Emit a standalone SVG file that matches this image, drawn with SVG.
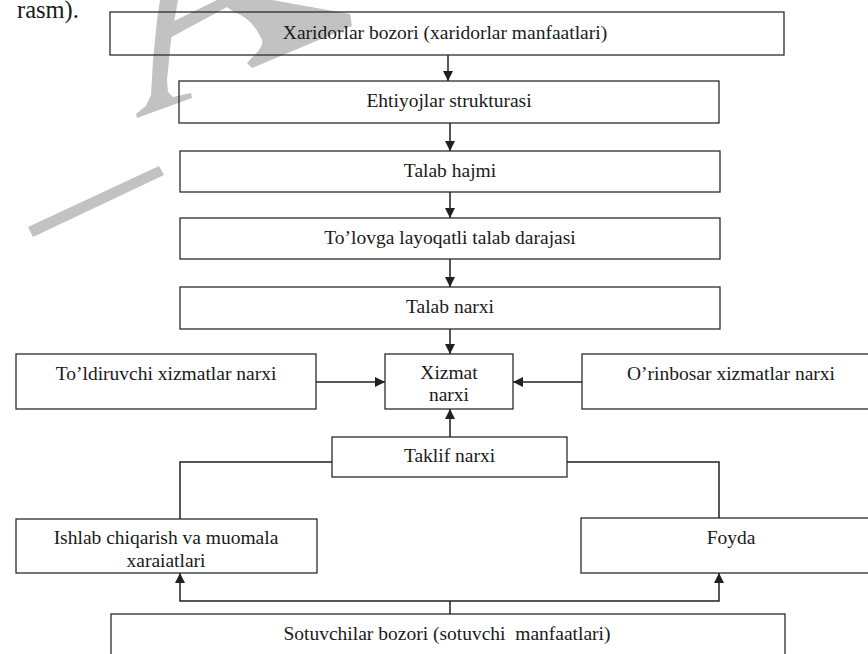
<svg xmlns="http://www.w3.org/2000/svg" width="868" height="654" viewBox="0 0 868 654">
  <style>
    .box { fill: none; stroke: #2b2b2b; stroke-width: 1.3; }
    .lbl { font-family: "Liberation Serif", "Times New Roman", serif; font-size: 19.5px; fill: #1a1a1a; text-anchor: middle; }
    .conn { fill: none; stroke: #231f20; stroke-width: 1.5; }
    .arr { marker-end: url(#head); }
    .wm { fill: #c2c2c2; }
  </style>
  <defs>
    <marker id="head" markerUnits="userSpaceOnUse" markerWidth="10" markerHeight="10" refX="10" refY="5" orient="auto">
      <path d="M0,0 L10,5 L0,10 Z" fill="#231f20"/>
    </marker>
  </defs>
  <rect width="868" height="654" fill="#ffffff"/>

  <!-- background watermark strokes -->
  <g id="watermark">
    <polygon class="wm" points="28,227 33,237 164,175 159,166"/>
    <polygon class="wm" points="160,0 178,0 171,40 167,80 168,92 173,97 191,93 192,98 137,118 136,114 146,106 151,95 153,60 157,20"/>
    <polygon class="wm" points="166,25 217,0 240,0 166,40"/>
    <path class="wm" d="M217,0 L272,0 L350,14 L352,26 L252,68 L247,63 C256,54 264,46 262,40 C256,26 246,16 234,12 Z"/>
  </g>

  <text x="17" y="18" style="font-family:'Liberation Serif','Times New Roman',serif;font-size:24.5px;fill:#1a1a1a">rasm).</text>

  <g id="connectors">
    <path class="conn arr" d="M448,55 V81"/>
    <path class="conn arr" d="M450,123 V151"/>
    <path class="conn arr" d="M450,192 V218"/>
    <path class="conn arr" d="M450,259 V287"/>
    <path class="conn arr" d="M450,329 V354"/>
    <path class="conn arr" d="M316,382 H385"/>
    <path class="conn arr" d="M582,382 H513"/>
    <path class="conn arr" d="M450,437 V409"/>
    <path class="conn" d="M332,462 H180 V519"/>
    <path class="conn" d="M567,462 H719 V518"/>
    <path class="conn" d="M450,614 V601"/>
    <path class="conn arr" d="M450,601 H180 V573"/>
    <path class="conn arr" d="M450,601 H719 V573"/>
  </g>

  <g id="buyers-market">
    <rect class="box" x="110" y="12" width="674" height="43"/>
    <text class="lbl" x="445" y="39">Xaridorlar bozori (xaridorlar manfaatlari)</text>
  </g>
  <g id="needs-structure">
    <rect class="box" x="179" y="81" width="540" height="42"/>
    <text class="lbl" x="449" y="107">Ehtiyojlar strukturasi</text>
  </g>
  <g id="demand-volume">
    <rect class="box" x="180" y="151" width="540" height="41"/>
    <text class="lbl" x="450" y="177">Talab hajmi</text>
  </g>
  <g id="solvent-demand">
    <rect class="box" x="180" y="218" width="540" height="41"/>
    <text class="lbl" x="450" y="244">To’lovga layoqatli talab darajasi</text>
  </g>
  <g id="demand-price">
    <rect class="box" x="180" y="287" width="540" height="42"/>
    <text class="lbl" x="450" y="313">Talab narxi</text>
  </g>
  <g id="complement-price">
    <rect class="box" x="16" y="354" width="300" height="55"/>
    <text class="lbl" x="166" y="380">To’ldiruvchi xizmatlar narxi</text>
  </g>
  <g id="service-price">
    <rect class="box" x="385" y="354" width="128" height="55"/>
    <text class="lbl" x="449" y="379">Xizmat</text>
    <text class="lbl" x="449" y="401">narxi</text>
  </g>
  <g id="substitute-price">
    <rect class="box" x="582" y="354" width="300" height="55"/>
    <text class="lbl" x="731" y="380">O’rinbosar xizmatlar narxi</text>
  </g>
  <g id="supply-price">
    <rect class="box" x="332" y="437" width="235" height="40"/>
    <text class="lbl" x="449.5" y="462">Taklif narxi</text>
  </g>
  <g id="costs">
    <rect class="box" x="16" y="519" width="301" height="54"/>
    <text class="lbl" x="166" y="544">Ishlab chiqarish va muomala</text>
    <text class="lbl" x="166" y="567">xaraiatlari</text>
  </g>
  <g id="profit">
    <rect class="box" x="581" y="518" width="300" height="55"/>
    <text class="lbl" x="731" y="544">Foyda</text>
  </g>
  <g id="sellers-market">
    <rect class="box" x="111" y="614" width="674" height="60"/>
    <text class="lbl" x="447" y="640" xml:space="preserve">Sotuvchilar bozori (sotuvchi  manfaatlari)</text>
  </g>
</svg>
